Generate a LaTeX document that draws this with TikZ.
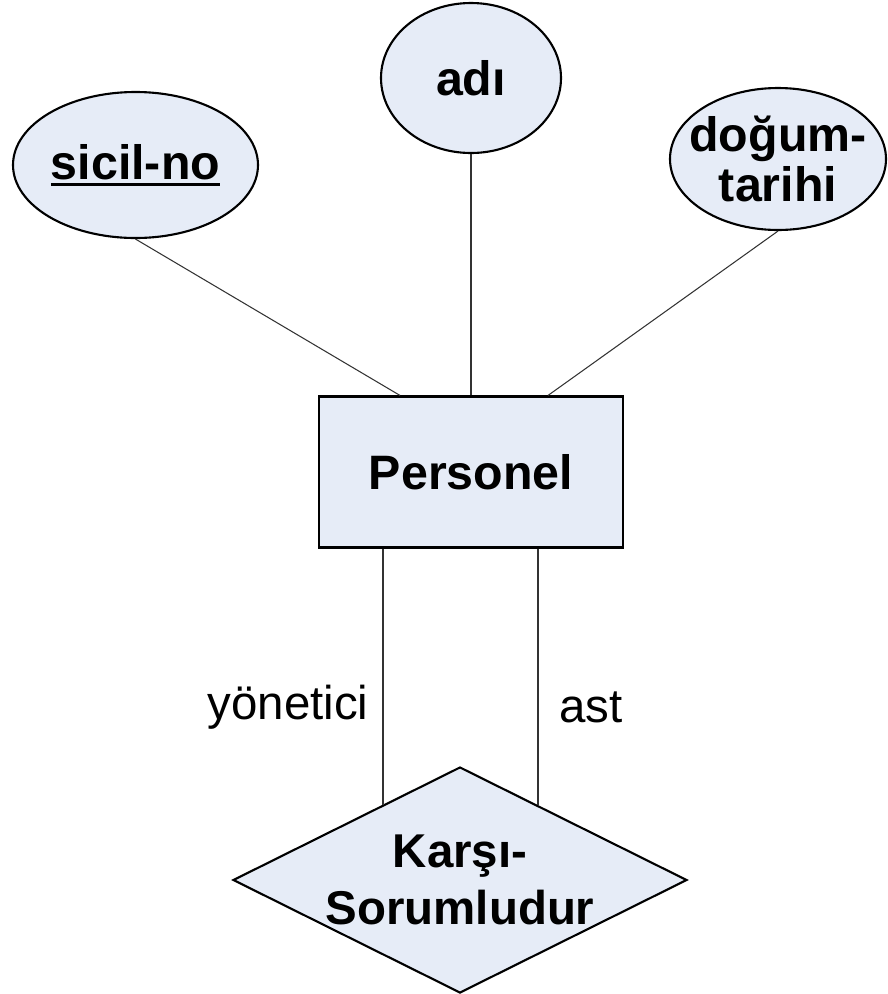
\documentclass[tikz,border=0pt]{standalone}
\usepackage{fontspec}
\setmainfont{Liberation Sans}
\usetikzlibrary{shapes.geometric}

\definecolor{erfill}{HTML}{E6ECF7}
\newcommand{\keyattr}[1]{\setbox0\hbox{#1}\rlap{\rule[-3.6pt]{\wd0}{1.8pt}}\box0}

\begin{document}
\begin{tikzpicture}[
  line width=1.2pt,
  attr/.style={ellipse, draw, fill=erfill, inner sep=0pt, font=\fontsize{27.5}{28.5}\selectfont\bfseries, align=center},
  entity/.style={rectangle, draw, fill=erfill, minimum width=6.08cm, minimum height=3.02cm, font=\fontsize{27.5}{32}\selectfont\bfseries},
  relship/.style={diamond, draw, fill=erfill, aspect=2, inner sep=0pt, minimum width=9.08cm, minimum height=4.52cm, font=\fontsize{27}{32}\selectfont\bfseries, align=center},
  link/.style={line width=0.6pt, black!80},
  role/.style={text=black, font=\fontsize{27}{30}\selectfont}
]

% ----- Frame -----
\useasboundingbox (0,0) rectangle (17.76,-19.88);

% ----- Attributes -----
\node[attr, minimum width=4.9cm, minimum height=2.92cm] (sicil) at (2.71,-3.30) {\keyattr{sicil-no}};
\node[attr, minimum width=3.6cm, minimum height=3.0cm] (adi) at (9.42,-1.56) {adı};
\node[attr, inner xsep=-8pt, minimum width=4.32cm, minimum height=2.84cm] (dogum) at (15.56,-3.18) {doğum-\\tarihi};

% ----- Entity and relationship -----
\node[entity] (personel) at (9.42,-9.44) {Personel};
\node[relship] (karsi) at (9.20,-17.60) {Karşı-\\Sorumludur};

% ----- Attribute links -----
\draw[link] (sicil.south) -- ([xshift=-1.42cm]personel.north);
\draw[link] (adi.south) -- (personel.north);
\draw[link] (dogum.south) -- ([xshift=1.54cm]personel.north);

% ----- Role links -----
\draw[link] ([xshift=-1.76cm]personel.south) -- ([xshift=-1.76cm]personel.south |- karsi.136)
  node[role, pos=0.62, left, inner sep=8pt] (yon) {yönetici};
\draw[link] ([xshift=1.34cm]personel.south) -- ([xshift=1.34cm]personel.south |- karsi.44)
  node[role, pos=0.62, right, inner sep=12pt] (ast) {ast};
\end{tikzpicture}
\end{document}
